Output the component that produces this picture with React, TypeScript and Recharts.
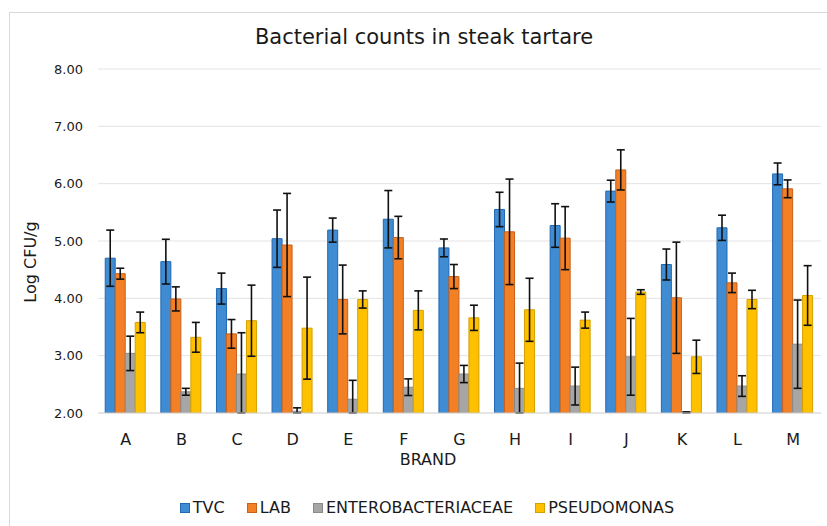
import React from "react";
import { BarChart, Bar, XAxis, YAxis, CartesianGrid, ErrorBar } from "recharts";

const brands = ["A", "B", "C", "D", "E", "F", "G", "H", "I", "J", "K", "L", "M"];
const tvc = [4.70, 4.64, 4.17, 5.04, 5.19, 5.38, 4.88, 5.55, 5.27, 5.87, 4.59, 5.23, 6.17];
const tvcErr = [0.49, 0.39, 0.27, 0.50, 0.21, 0.50, 0.155, 0.30, 0.38, 0.19, 0.27, 0.22, 0.19];
const lab = [4.43, 3.99, 3.38, 4.93, 3.98, 5.06, 4.38, 5.16, 5.05, 6.24, 4.01, 4.27, 5.91];
const labErr = [0.095, 0.21, 0.25, 0.90, 0.60, 0.37, 0.21, 0.92, 0.55, 0.35, 0.97, 0.17, 0.155];
const ent = [3.04, 2.37, 2.68, 2.03, 2.24, 2.45, 2.68, 2.43, 2.47, 2.98, 2.01, 2.47, 3.20];
const entErr = [0.30, 0.06, 0.72, 0.06, 0.33, 0.145, 0.15, 0.44, 0.33, 0.67, 0.01, 0.18, 0.77];
const pse = [3.58, 3.32, 3.61, 3.48, 3.98, 3.79, 3.66, 3.80, 3.62, 4.11, 2.98, 3.98, 4.05];
const pseErr = [0.18, 0.26, 0.62, 0.89, 0.15, 0.34, 0.22, 0.55, 0.14, 0.04, 0.29, 0.16, 0.52];
const yTicks = [2, 3, 4, 5, 6, 7, 8];
const Y_MIN = 2;
const Y_MAX = 8;

const series = [
  { key: "TVC", err: "TVCerr", fill: "#408CD2", stroke: "#2068B4" },
  { key: "LAB", err: "LABerr", fill: "#F38024", stroke: "#C9601A" },
  { key: "ENTEROBACTERIACEAE", err: "ENTerr", fill: "#A6A6A6", stroke: "#8A8A8A" },
  { key: "PSEUDOMONAS", err: "PSEerr", fill: "#FFC000", stroke: "#D4A000" },
];

// error bars are cut at the axis floor, as in the original
const clipErr = (v: number, e: number) => [Math.min(e, v - Y_MIN), e];

const data = brands.map((b, i) => ({
  brand: b,
  TVC: tvc[i],
  TVCerr: clipErr(tvc[i], tvcErr[i]),
  LAB: lab[i],
  LABerr: clipErr(lab[i], labErr[i]),
  ENTEROBACTERIACEAE: ent[i],
  ENTerr: clipErr(ent[i], entErr[i]),
  PSEUDOMONAS: pse[i],
  PSEerr: clipErr(pse[i], pseErr[i]),
}));

const FONT = "'DejaVu Sans', Verdana, sans-serif";

export default function App() {
  return (
    <div
      style={{
        position: "absolute",
        left: 0,
        top: 0,
        width: 827,
        height: 526,
        overflow: "hidden",
        background: "#fff",
        fontFamily: FONT,
      }}
    >
      <div
        style={{
          position: "absolute",
          left: 9,
          top: 12,
          width: 900,
          height: 600,
          border: "1px solid #d9d9d9",
        }}
      />
      <div style={{ position: "absolute", left: 0, top: 0 }}>
        <BarChart
          width={827}
          height={526}
          data={data}
          margin={{ top: 69, right: 6, bottom: 83, left: 38 }}
          barCategoryGap="13%"
          barGap={0}
        >
          <CartesianGrid vertical={false} stroke="#e3e3e3" strokeWidth={1} />
          <XAxis
            dataKey="brand"
            height={30}
            axisLine={{ stroke: "#d9d9d9" }}
            tickLine={false}
            tickMargin={15}
            tick={{ fill: "#1a1a1a", fontSize: 16, fontFamily: FONT }}
            interval={0}
          />
          <YAxis
            width={60}
            domain={[Y_MIN, Y_MAX]}
            ticks={yTicks}
            allowDataOverflow
            axisLine={false}
            tickLine={false}
            tickMargin={9}
            tickFormatter={(v: number) => v.toFixed(2)}
            tick={{ fill: "#1a1a1a", fontSize: 13, fontFamily: FONT }}
          />
          {series.map((s) => (
            <Bar
              key={s.key}
              dataKey={s.key}
              fill={s.fill}
              stroke={s.stroke}
              strokeWidth={1}
              isAnimationActive={false}
            >
              <ErrorBar dataKey={s.err} width={4} stroke="#111" strokeWidth={1.6} />
            </Bar>
          ))}
        </BarChart>
      </div>
      <svg
        width={827}
        height={526}
        style={{ position: "absolute", left: 0, top: 0, pointerEvents: "none" }}
      >
        <text x={424} y={44} textAnchor="middle" fontSize={21} fill="#1a1a1a" fontFamily={FONT}>
          Bacterial counts in steak tartare
        </text>
        <text
          transform="translate(36,262) rotate(-90)"
          textAnchor="middle"
          fontSize={16}
          fill="#1a1a1a"
          fontFamily={FONT}
        >
          Log CFU/g
        </text>
        <text x={428} y={465} textAnchor="middle" fontSize={16} fill="#1a1a1a" fontFamily={FONT}>
          BRAND
        </text>
      </svg>
      <div
        style={{
          position: "absolute",
          left: 0,
          top: 498,
          width: 854,
          display: "flex",
          justifyContent: "center",
          gap: 22,
          fontSize: 16,
          color: "#1a1a1a",
          lineHeight: "20px",
        }}
      >
        {series.map((s) => (
          <div key={s.key} style={{ display: "flex", alignItems: "center" }}>
            <div
              style={{
                width: 8,
                height: 8,
                background: s.fill,
                border: `1px solid ${s.stroke}`,
                marginRight: 3,
              }}
            />
            <span>{s.key}</span>
          </div>
        ))}
      </div>
    </div>
  );
}
